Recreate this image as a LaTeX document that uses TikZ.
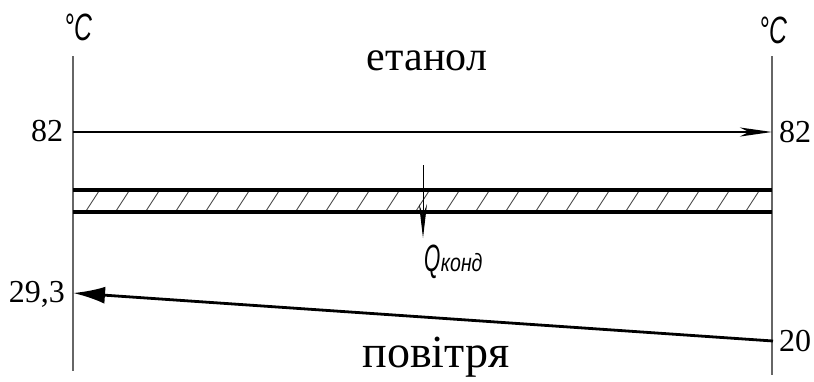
\documentclass[tikz,border=0pt]{standalone}
\usepackage{fontspec}
\setmainfont{Liberation Serif}
\newfontfamily\sansit{Liberation Sans}[ItalicFont={* Italic}]
\usetikzlibrary{arrows.meta}
\begin{document}
\begin{tikzpicture}[x=1pt,y=-1pt,
  axis/.style={line width=1.4pt,black!60},
  flow/.style={line width=2.8pt,black},
  wallline/.style={line width=3.8pt,black},
  hatchline/.style={line width=0.9pt,black!70},
  numlbl/.style={inner sep=0pt,font=\fontsize{32}{32}\selectfont},
  biglbl/.style={inner sep=0pt,font=\fontsize{42}{42}\selectfont},
  degC/.style={inner sep=0pt,font=\sansit\itshape\fontsize{38}{38}\selectfont}]
\useasboundingbox (0,0) rectangle (814,381);
% axes
\coordinate (Lt) at (73,56);
\coordinate (Lb) at (73,371);
\coordinate (Rt) at (772,56);
\coordinate (Rb) at (772,375);
\draw[axis] (Lt) -- (Lb);
\draw[axis] (Rt) -- (Rb);
\node[degC] (cl) at (78,27) {\scalebox{0.65}[1]{°C}};
\node[degC] (cr) at (773,30) {\scalebox{0.65}[1]{°C}};
% labels
\node[biglbl] (et) at (427,61) {етанол};
\node[biglbl,font=\fontsize{46}{46}\selectfont] (pov) at (436,357) {повітря};
\node[numlbl] (l82) at (47,131) {82};
\node[numlbl] (r82) at (795,132) {82};
\node[numlbl] (l29) at (37,294) {29,3};
\node[numlbl] (r20) at (795,341) {20};
% top flow
\coordinate (ta) at (73,132);
\coordinate (tb) at (772,132);
\draw[flow,-{Stealth[length=32pt,width=9pt,inset=9pt]}] (ta) -- (tb);
% wall
\coordinate (w1a) at (73,190);
\coordinate (w1b) at (772,190);
\coordinate (w2a) at (73,212);
\coordinate (w2b) at (772,212);
\begin{scope}
\clip (73,190) rectangle (772,212);
\foreach \x in {86,116,...,776} {
  \draw[hatchline] (\x,211) -- (\x+13,191);
}
\end{scope}
\draw[wallline] (w1a) -- (w1b);
\draw[wallline] (w2a) -- (w2b);
% heat arrow
\coordinate (qa) at (423,165);
\coordinate (qb) at (423,238);
\draw[line width=1pt,-{Stealth[length=34pt,width=8pt]}] (qa) -- (qb);
\node[inner sep=0pt,anchor=base west] (q) at (424,271)
  {\scalebox{0.55}[1]{\sansit\itshape\fontsize{38}{38}\selectfont Q}\hspace{0.5pt}\scalebox{0.78}[1]{\sansit\itshape\fontsize{25}{25}\selectfont конд}};
% bottom flow
\coordinate (ba) at (773,341);
\coordinate (bb) at (73,293);
\draw[flow,-{Latex[length=32pt,width=17pt]}] (ba) -- (bb);
\end{tikzpicture}
\end{document}
